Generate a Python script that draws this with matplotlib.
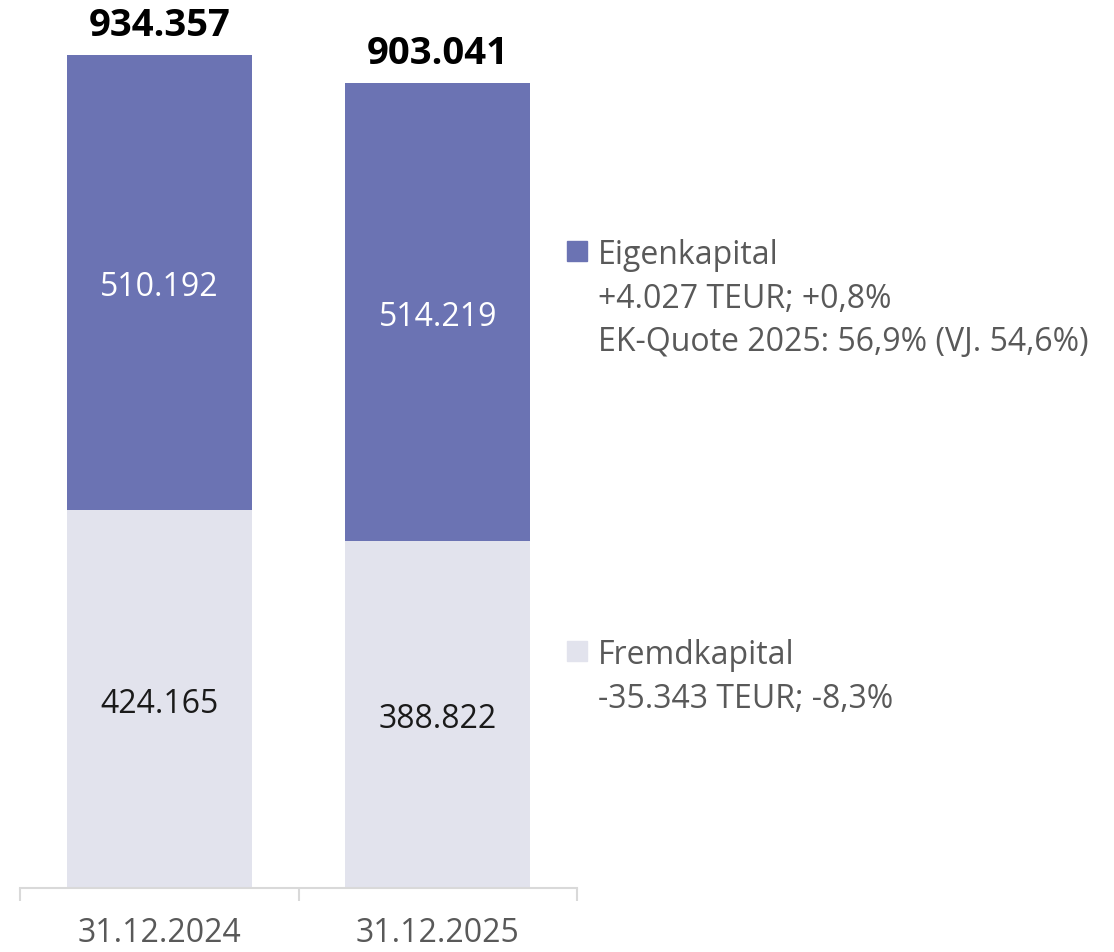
import matplotlib
matplotlib.use("Agg")
import matplotlib.pyplot as plt
from matplotlib.patches import Rectangle

categories = ["31.12.2024", "31.12.2025"]
fremdkapital = [424165, 388822]
eigenkapital = [510192, 514219]
totals = [934357, 903041]
fk_labels = ["424.165", "388.822"]
ek_labels = ["510.192", "514.219"]
total_labels = ["934.357", "903.041"]
legend_ek = ["Eigenkapital", "+4.027 TEUR; +0,8%", "EK-Quote 2025: 56,9% (VJ. 54,6%)"]
legend_fk = ["Fremdkapital", "-35.343 TEUR; -8,3%"]

purple = "#6b73b3"
light = "#e2e3ed"
gray_text = "#595959"

plt.rcParams['font.family'] = ['Open Sans', 'DejaVu Sans']

W, H = 1114, 953
fig = plt.figure(figsize=(W / 100, H / 100), dpi=100)
ax = fig.add_axes([20 / W, 64 / H, 557 / W, 869 / H])

x = range(len(categories))
ax.bar(x, fremdkapital, width=0.664, color=light)
ax.bar(x, eigenkapital, width=0.664, bottom=fremdkapital, color=purple)

for i in x:
    ax.annotate(fk_labels[i], (i, fremdkapital[i] / 2), xytext=(0, -3),
                textcoords="offset points", ha="center", va="center",
                fontsize=23, color="#1a1a1a")
    ax.annotate(ek_labels[i], (i, fremdkapital[i] + eigenkapital[i] / 2), xytext=(0, -3),
                textcoords="offset points", ha="center", va="center",
                fontsize=23, color="white")
    ax.annotate(total_labels[i], (i, totals[i]), xytext=(0, 8), textcoords="offset points",
                ha="center", va="bottom", fontsize=27.5, fontweight="bold", color="black")

ax.set_xlim(-0.5, 1.5)
ax.set_ylim(0, 974737)
for s in ["top", "left", "right"]:
    ax.spines[s].set_visible(False)
ax.spines["bottom"].set_color("#d9d9d9")
ax.spines["bottom"].set_linewidth(1.5)
ax.set_yticks([])
ax.set_xticks(list(x))
ax.set_xticklabels(categories, fontsize=23, color=gray_text)
ax.tick_params(axis="x", which="major", length=0, pad=20)
ax.set_xticks([-0.5, 0.5, 1.5], minor=True)
ax.tick_params(axis="x", which="minor", length=9, width=1.5, color="#d9d9d9")

# legend drawn as text blocks
def legend_block(y_top, color, lines):
    fig.patches.append(Rectangle((567 / W, 1 - (y_top + 10) / H), 20 / W, 20 / H,
                                 transform=fig.transFigure, color=color, figure=fig))
    for k, line in enumerate(lines):
        fig.text(598 / W, 1 - (y_top + 4 + k * 43.5) / H, line, fontsize=23,
                 color=gray_text, va="center", ha="left")

legend_block(252, purple, legend_ek)
legend_block(652, light, legend_fk)

fig.savefig("out.png", dpi=100)
